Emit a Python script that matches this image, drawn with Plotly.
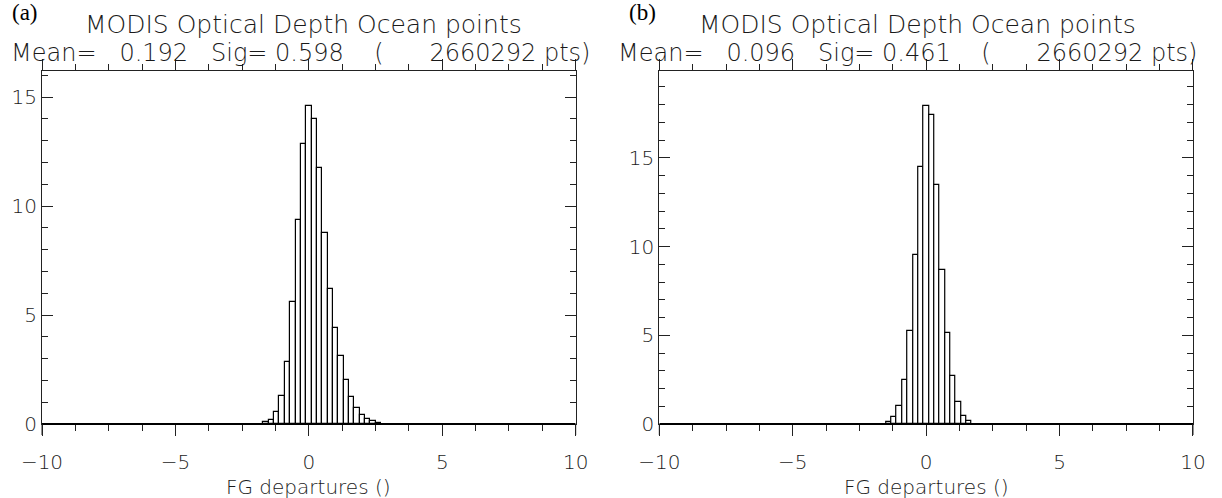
import plotly.graph_objects as go

# ---------------- data ----------------
bins_a = [-1.6, -1.4, -1.2, -1.0, -0.8, -0.6, -0.4, -0.2, 0.0, 0.2, 0.4, 0.6, 0.8,
          1.0, 1.2, 1.4, 1.6, 1.8, 2.0, 2.2, 2.4, 2.6]
freq_a = [0.08, 0.2, 0.54, 1.28, 2.85, 5.6, 9.35, 12.85, 14.6, 14.0, 11.75, 8.75, 6.2,
          4.4, 3.1, 2.03, 1.25, 0.74, 0.4, 0.22, 0.12, 0.06]

bins_b = [-1.4, -1.2, -1.0, -0.8, -0.6, -0.4, -0.2, 0.0, 0.2, 0.4, 0.6, 0.8, 1.0,
          1.2, 1.4, 1.6]
freq_b = [0.12, 0.38, 1.04, 2.5, 5.27, 9.5, 14.5, 17.9, 17.4, 13.5, 8.66, 5.12, 2.73,
          1.22, 0.47, 0.15]

bin_width = 0.2
panel_labels = ["(a)", "(b)"]
title_line1 = "MODIS Optical Depth Ocean points"
stats_lines = ["Mean=   0.192   Sig= 0.598    (      2660292 pts)",
               "Mean=   0.096   Sig= 0.461    (      2660292 pts)"]
x_title = "FG departures ()"
y_max = [16.2, 19.9]

# ---------------- figure ----------------
W, H = 1222, 498
ml, mr, mt, mb = 37, 29, 71, 74
plot_w = W - ml - mr
plot_h = H - mt - mb
FONT = "DejaVu Sans"
TXT = "#1a1a1a"
AX = "#222"

fig = go.Figure()
fig.add_trace(go.Bar(x=bins_a, y=freq_a, width=bin_width, xaxis="x", yaxis="y",
                     marker=dict(color="white", line=dict(color="black", width=1.2)),
                     showlegend=False, hoverinfo="skip"))
fig.add_trace(go.Bar(x=bins_b, y=freq_b, width=bin_width, xaxis="x2", yaxis="y2",
                     marker=dict(color="white", line=dict(color="black", width=1.2)),
                     showlegend=False, hoverinfo="skip"))

dom_a = [0, (573 - ml) / plot_w]
dom_b = [(657 - ml) / plot_w, 1]

def xax(domain, anchor):
    return dict(domain=domain, anchor=anchor, range=[-10, 10], dtick=5, tick0=0,
                ticks="outside", ticklen=11, tickwidth=1, tickcolor=AX,
                showline=True, linecolor=AX, linewidth=1, mirror="ticks",
                showgrid=False, zeroline=False, ticklabelstandoff=9,
                minor=dict(dtick=1.25, ticks="outside", ticklen=6, tickcolor=AX, showgrid=False),
                tickfont=dict(family=FONT, size=20, color=TXT, weight=200))

def yax(anchor, ymax):
    return dict(domain=[0, 1], anchor=anchor, range=[0, ymax], dtick=5, tick0=0,
                ticks="inside", ticklen=11, tickwidth=1, tickcolor=AX,
                showline=True, linecolor=AX, linewidth=1, mirror="ticks",
                showgrid=False, zeroline=False,
                minor=dict(dtick=1, ticks="inside", ticklen=6, tickcolor=AX, showgrid=False),
                tickfont=dict(family=FONT, size=20, color=TXT, weight=200))

fig.update_layout(
    width=W, height=H,
    margin=dict(l=ml, r=mr, t=mt, b=mb),
    paper_bgcolor="white", plot_bgcolor="white",
    bargap=0,
    xaxis=xax(dom_a, "y"), yaxis=yax("x", y_max[0]),
    xaxis2=xax(dom_b, "y2"), yaxis2=yax("x2", y_max[1]),
)

def py(ypix):
    return (H - mb - ypix) / plot_h

def px(xpix):
    return (xpix - ml) / plot_w

title_pos = [0.49, 0.483]
stats_pos = [0.485, 0.465]
label_x = [5, 625]

shapes = []
annotations = []
for i, dom in enumerate([dom_a, dom_b]):
    xr = "x" if i == 0 else "x2"
    xd = f"{xr} domain"
    shapes.append(dict(type="line", xref=xr, yref="paper", x0=-10, x1=10, y0=0, y1=0,
                       line=dict(color="black", width=2)))
    for xx in (0, 1):
        shapes.append(dict(type="line", xref=xd, yref="paper", x0=xx, x1=xx,
                           y0=0, y1=-11 / plot_h, line=dict(color=AX, width=1)))
    annotations.append(dict(text=title_line1, xref=xd, yref="paper", x=title_pos[i], y=py(25),
                            xanchor="center", yanchor="middle", showarrow=False,
                            font=dict(family=FONT, size=25, color=TXT, weight=200)))
    annotations.append(dict(text=stats_lines[i], xref=xd, yref="paper", x=stats_pos[i], y=py(53),
                            xanchor="center", yanchor="middle", showarrow=False,
                            font=dict(family=FONT, size=24, color=TXT, weight=200)))
    annotations.append(dict(text=x_title, xref=xd, yref="paper", x=0.5, y=py(487),
                            xanchor="center", yanchor="middle", showarrow=False,
                            font=dict(family=FONT, size=20, color=TXT, weight=200)))
    annotations.append(dict(text=panel_labels[i], xref="paper", yref="paper",
                            x=px(label_x[i]), y=py(12), xanchor="left", yanchor="middle",
                            showarrow=False,
                            font=dict(family="Liberation Serif", size=23, color="black")))

fig.update_layout(shapes=shapes, annotations=annotations)
fig.write_html("out.html")
